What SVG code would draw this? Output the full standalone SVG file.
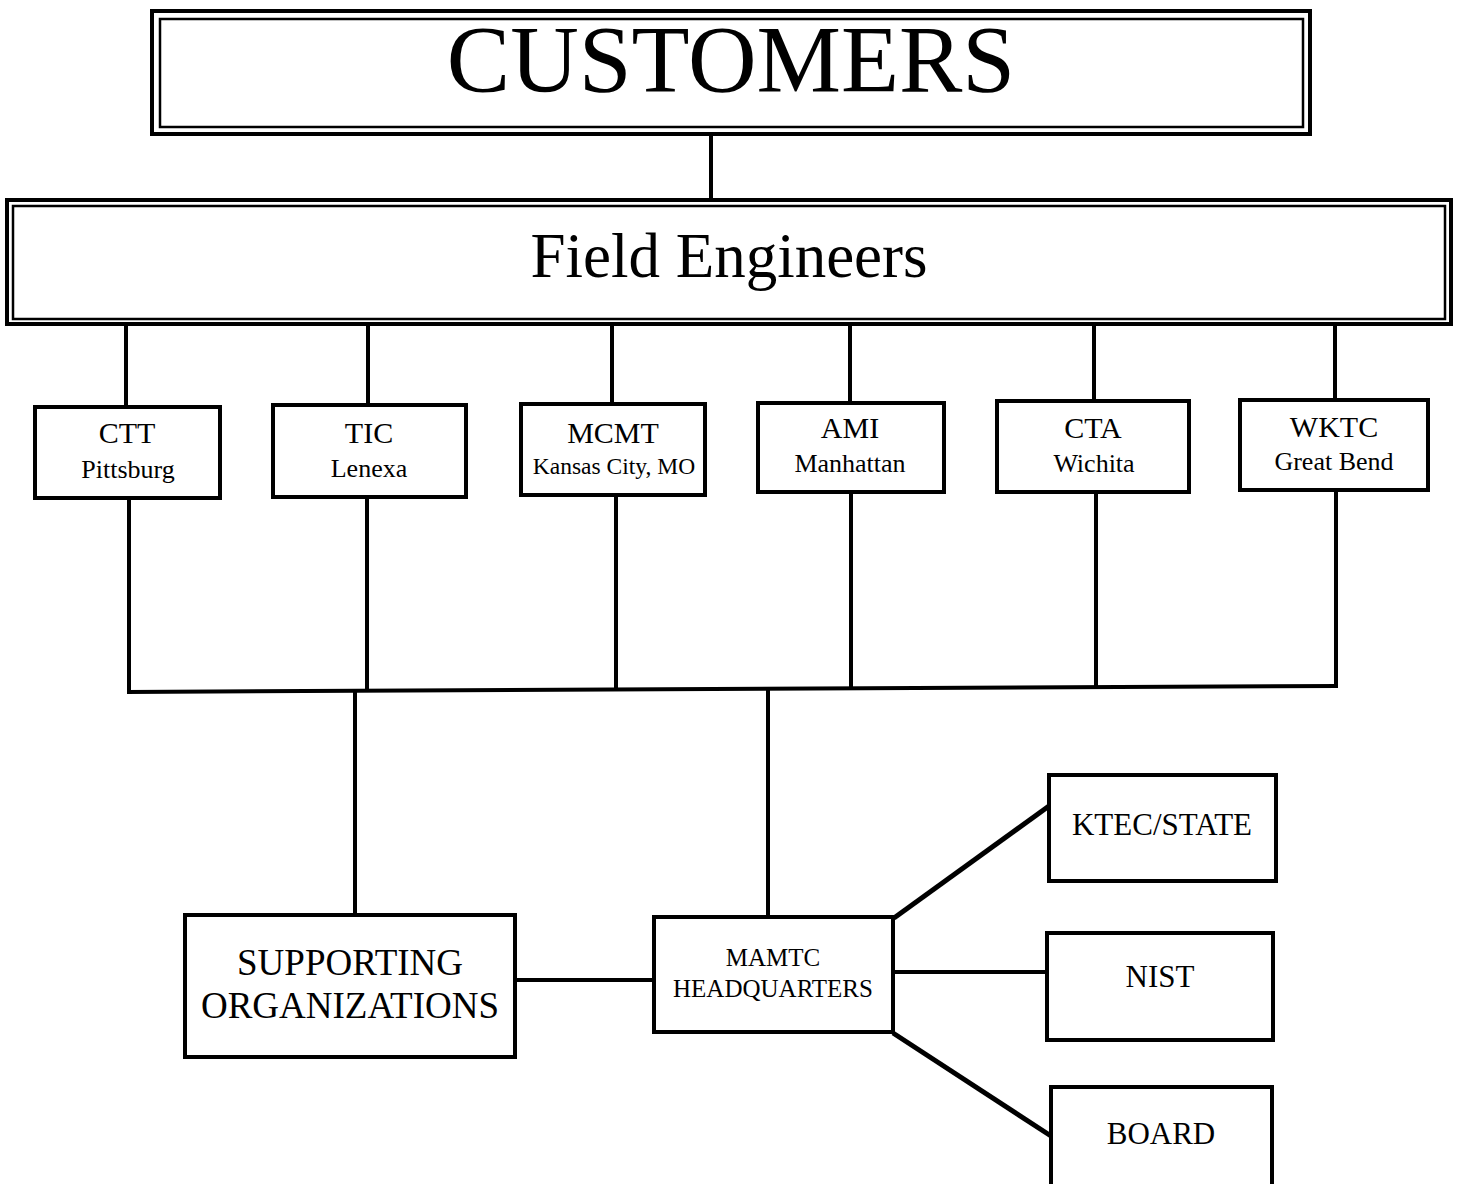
<svg xmlns="http://www.w3.org/2000/svg" width="1460" height="1184" viewBox="0 0 1460 1184">
<style>
  .t { font-family: "Liberation Serif", "Times New Roman", serif; fill: #000; text-anchor: middle; }
  .box { fill: #fff; stroke: #000; stroke-width: 4; }
  .outer { fill: #fff; stroke: #000; stroke-width: 4; }
  .inner { fill: none; stroke: #000; stroke-width: 2.5; }
  .conn { stroke: #000; stroke-width: 4; fill: none; }
  .diag { stroke: #000; stroke-width: 5; fill: none; }
  .big { font-size: 95px; }
  .fe { font-size: 63px; }
  .h { font-size: 30px; }
  .s { font-size: 26px; }
  .m { font-size: 37px; }
  .hq { font-size: 25px; }
  .r { font-size: 31px; }
</style>
<rect width="1460" height="1184" fill="#fff"/>
<g id="connectors">
  <line class="conn" x1="711" y1="133" x2="711" y2="202"/>
  <line class="conn" x1="126" y1="324" x2="126" y2="407"/>
  <line class="conn" x1="368" y1="324" x2="368" y2="405"/>
  <line class="conn" x1="612" y1="324" x2="612" y2="404"/>
  <line class="conn" x1="850" y1="322" x2="850" y2="403"/>
  <line class="conn" x1="1094" y1="320" x2="1094" y2="400"/>
  <line class="conn" x1="1335" y1="318" x2="1335" y2="400"/>
  <line class="conn" x1="129" y1="498" x2="129" y2="692"/>
  <line class="conn" x1="367" y1="497" x2="367" y2="691"/>
  <line class="conn" x1="616" y1="495" x2="616" y2="689"/>
  <line class="conn" x1="851" y1="492" x2="851" y2="688"/>
  <line class="conn" x1="1096" y1="492" x2="1096" y2="687"/>
  <line class="conn" x1="1336" y1="490" x2="1336" y2="686"/>
  <polyline class="conn" points="127,692 1338,686"/>
  <line class="conn" x1="355" y1="691" x2="355" y2="915"/>
  <line class="conn" x1="768" y1="689" x2="768" y2="916"/>
  <line class="conn" x1="515" y1="980" x2="653" y2="980"/>
  <line class="diag" x1="894" y1="918" x2="1049" y2="806"/>
  <line class="conn" x1="893" y1="972" x2="1046" y2="972"/>
  <line class="diag" x1="893" y1="1033" x2="1051" y2="1136"/>
</g>
<g id="customers">
  <rect class="outer" x="152" y="11" width="1158" height="123"/>
  <rect class="inner" x="160" y="19" width="1143" height="108"/>
  <text class="t big" x="731" y="92">CUSTOMERS</text>
</g>
<g id="field-engineers">
  <rect class="outer" x="7" y="200" width="1444" height="124" stroke-width="3"/>
  <rect class="inner" x="13" y="206" width="1432" height="113" stroke-width="3"/>
  <text class="t fe" x="729" y="277">Field Engineers</text>
</g>
<g id="ctt">
  <rect class="box" x="35" y="407" width="185" height="91"/>
  <text class="t h" x="127" y="443">CTT</text>
  <text class="t s" x="128" y="478">Pittsburg</text>
</g>
<g id="tic">
  <rect class="box" x="273" y="405" width="193" height="92"/>
  <text class="t h" x="369" y="443">TIC</text>
  <text class="t s" x="369" y="477">Lenexa</text>
</g>
<g id="mcmt">
  <rect class="box" x="521" y="404" width="184" height="91"/>
  <text class="t h" x="613" y="443">MCMT</text>
  <text class="t s" x="614" y="474" style="font-size:23.5px">Kansas City, MO</text>
</g>
<g id="ami">
  <rect class="box" x="758" y="403" width="186" height="89"/>
  <text class="t h" x="850" y="438">AMI</text>
  <text class="t s" x="850" y="472">Manhattan</text>
</g>
<g id="cta">
  <rect class="box" x="997" y="401" width="192" height="91"/>
  <text class="t h" x="1093" y="438">CTA</text>
  <text class="t s" x="1094" y="472">Wichita</text>
</g>
<g id="wktc">
  <rect class="box" x="1240" y="400" width="188" height="90"/>
  <text class="t h" x="1334" y="437">WKTC</text>
  <text class="t s" x="1334" y="470">Great Bend</text>
</g>
<g id="supporting">
  <rect class="box" x="185" y="915" width="330" height="142"/>
  <text class="t m" x="350" y="975">SUPPORTING</text>
  <text class="t m" x="350" y="1018">ORGANIZATIONS</text>
</g>
<g id="mamtc">
  <rect class="box" x="654" y="917" width="239" height="115"/>
  <text class="t hq" x="773" y="966">MAMTC</text>
  <text class="t hq" x="773" y="997">HEADQUARTERS</text>
</g>
<g id="ktec">
  <rect class="box" x="1049" y="775" width="227" height="106"/>
  <text class="t r" x="1162" y="835">KTEC/STATE</text>
</g>
<g id="nist">
  <rect class="box" x="1047" y="933" width="226" height="107"/>
  <text class="t r" x="1160" y="987">NIST</text>
</g>
<g id="board">
  <rect class="box" x="1051" y="1087" width="221" height="100"/>
  <text class="t r" x="1161" y="1144">BOARD</text>
</g>
</svg>
